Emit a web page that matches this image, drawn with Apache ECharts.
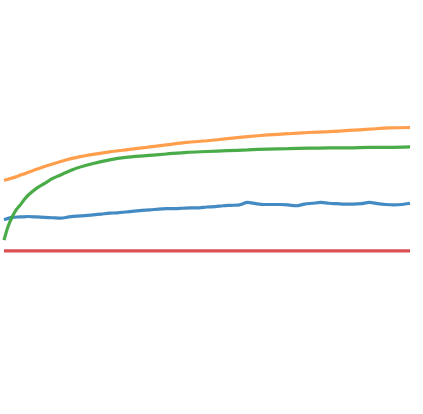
<!DOCTYPE html>
<html>
<head>
<meta charset="utf-8">
<script src="https://cdn.jsdelivr.net/npm/echarts@6/dist/echarts.min.js"></script>
<style>
  html, body { margin: 0; padding: 0; background: #fff; }
  #chart { width: 423px; height: 414px; }
</style>
</head>
<body>
<div id="chart"></div>
<script>
// x positions (training progress, 0..100) shared by the smooth curves
const steps = [0, 1, 2, 3, 4, 5, 6, 8, 10, 12, 15, 18, 22, 26, 30, 35, 40, 45, 50,
  55, 60, 65, 70, 75, 80, 85, 90, 95, 100];

const orangeValues = [56.4, 56.7, 57.0, 57.3, 57.7, 58.0, 58.4, 59.1, 59.8, 60.4, 61.3,
  62.0, 62.7, 63.3, 63.8, 64.4, 65.0, 65.6, 66.0, 66.5, 67.0, 67.4, 67.7, 68.0, 68.2,
  68.5, 68.8, 69.1, 69.2];

const greenValues = [42.0, 45.3, 47.6, 49.3, 50.5, 51.8, 52.9, 54.5, 55.7, 56.9, 58.2,
  59.4, 60.5, 61.4, 62.0, 62.4, 62.8, 63.2, 63.4, 63.6, 63.8, 64.0, 64.1, 64.2, 64.3,
  64.3, 64.4, 64.4, 64.5];

// noisy series, sampled every 2 steps
const blueSteps = [0, 2, 4, 6, 8, 10, 12, 14, 16, 18, 20, 22, 24, 26, 28, 30, 32, 34,
  36, 38, 40, 42, 44, 46, 48, 50, 52, 54, 56, 58, 60, 62, 64, 66, 68, 70, 72, 74, 76,
  78, 80, 82, 84, 86, 88, 90, 92, 94, 96, 98, 100];

const blueValues = [46.9, 47.5, 47.6, 47.7, 47.6, 47.5, 47.4, 47.3, 47.6, 47.8, 47.9,
  48.1, 48.3, 48.5, 48.6, 48.8, 49.0, 49.2, 49.3, 49.5, 49.6, 49.6, 49.7, 49.8, 49.8,
  50.0, 50.1, 50.3, 50.4, 50.5, 51.1, 50.8, 50.6, 50.6, 50.6, 50.5, 50.3, 50.7, 50.9,
  51.1, 50.9, 50.8, 50.7, 50.7, 50.8, 51.1, 50.8, 50.6, 50.5, 50.6, 50.9];

// flat baseline
const redSteps = [0, 100];
const redValues = [39.4, 39.4];

const pairs = (xs, ys) => xs.map((x, i) => [x, ys[i]]);

const chart = echarts.init(document.getElementById("chart"));

const lineSeries = (name, data, color) => ({
  name,
  type: "line",
  data,
  showSymbol: false,
  smooth: 0.3,
  lineStyle: { width: 3.2, color, opacity: 0.95 },
  itemStyle: { color },
});

chart.setOption({
  animation: false,
  backgroundColor: "#fff",
  grid: { left: 4, right: 13, top: 0, bottom: 0 },
  xAxis: {
    type: "value",
    min: 0,
    max: 100,
    show: false,
  },
  yAxis: {
    type: "value",
    min: 0,
    max: 100,
    show: false,
  },
  series: [
    lineSeries("blue", pairs(blueSteps, blueValues), "#3a85c0"),
    lineSeries("orange", pairs(steps, orangeValues), "#ff9a45"),
    lineSeries("green", pairs(steps, greenValues), "#3fa83f"),
    lineSeries("red", pairs(redSteps, redValues), "#d9464a"),
  ],
});
</script>
</body>
</html>
